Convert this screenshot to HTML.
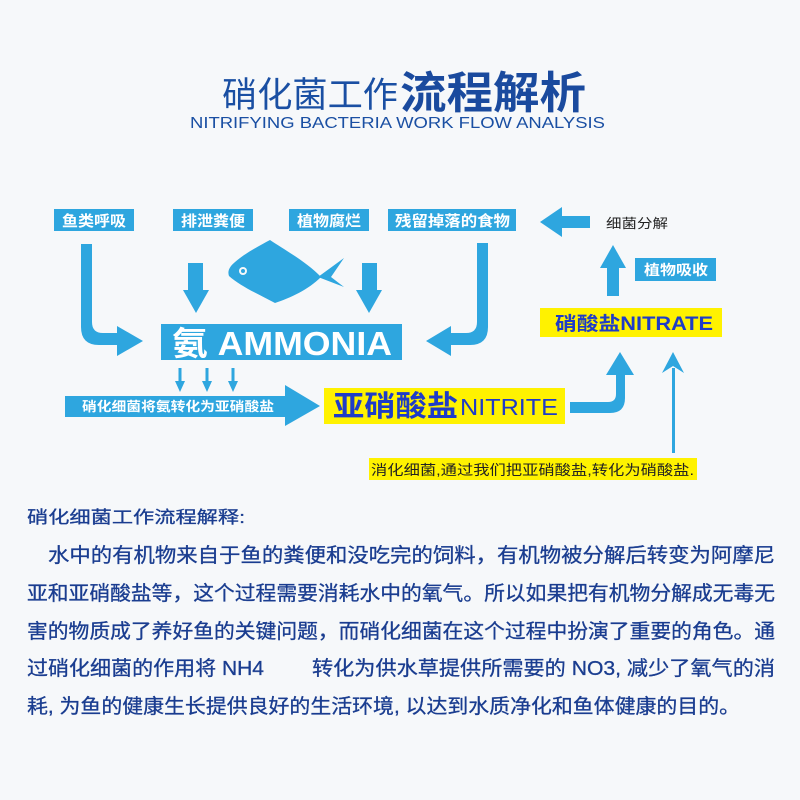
<!DOCTYPE html>
<html><head><meta charset="utf-8"><style>
html,body{margin:0;padding:0;background:#f6f8fa;}
svg{display:block}
text{font-family:"Liberation Sans","Noto Sans CJK SC",sans-serif;}
</style></head><body>
<svg width="800" height="800" viewBox="0 0 800 800" xmlns="http://www.w3.org/2000/svg">
<rect width="800" height="800" fill="#f6f8fa"/>
<text x="222" y="107" font-size="35" fill="#1a4fa3" textLength="176" lengthAdjust="spacingAndGlyphs">硝化菌工作</text>
<text x="400" y="108" font-size="44" font-weight="bold" fill="#1a4a9e" textLength="186" lengthAdjust="spacingAndGlyphs">流程解析</text>
<text x="190" y="128" font-size="16" fill="#1a4fa3" textLength="415" lengthAdjust="spacingAndGlyphs">NITRIFYING BACTERIA WORK FLOW ANALYSIS</text>

<g fill="#2ea6df">
<rect x="54" y="209" width="80" height="22"/>
<rect x="173" y="209" width="80" height="22"/>
<rect x="289" y="209" width="80" height="22"/>
<rect x="388" y="209" width="128" height="22"/>
<rect x="635" y="258" width="81" height="23"/>
<rect x="560" y="216" width="30" height="12"/>
<polygon points="540,222 562,207 562,237"/>
<rect x="607" y="268" width="12" height="28"/>
<polygon points="613,245 600,268 626,268"/>
<path d="M81,244 H92 V322 Q92,333 103,333 H120 V345 H99 Q81,345 81,327 Z"/>
<polygon points="143,341 117,326 117,356"/>
<path d="M477,243 H488 V327 Q488,345 470,345 H448 V333 H466 Q477,333 477,322 Z"/>
<polygon points="426,341 451,326 451,356"/>
<rect x="188" y="263" width="15" height="28"/>
<polygon points="196,313 183,290 209,290"/>
<rect x="362" y="263" width="15" height="28"/>
<polygon points="369,313 356,290 382,290"/>
<path d="M270,240 C285,250 308,263 321,277 C308,290 290,298 275,303 C258,294 240,286 229,276 C228,273 228,270 231,266 C240,256 257,247 270,240 Z"/>
<path d="M318,277 L344,258 L331,277 L344,287 Z"/>
<rect x="161" y="324" width="241" height="36"/>
<rect x="178.5" y="368" width="3" height="14"/><polygon points="180,392 175,381 185,381"/>
<rect x="205.5" y="368" width="3" height="14"/><polygon points="207,392 202,381 212,381"/>
<rect x="231.5" y="368" width="3" height="14"/><polygon points="233,392 228,381 238,381"/>
<rect x="65" y="396" width="222" height="21"/>
<polygon points="320,406 285,385 285,426"/>
<path d="M570,402 H608 Q616,402 616,394 V373 H625 V398 Q625,413 610,413 H570 Z"/>
<polygon points="620,352 606,375 634,375"/>
<rect x="672" y="368" width="3" height="85"/>
<polygon points="673,352 662,373 673,366 684,373"/>
</g>
<circle cx="243" cy="271" r="4" fill="#f6f8fa"/>
<circle cx="243" cy="271" r="2" fill="#2ea6df"/>

<g fill="#fff" font-weight="bold">
<text x="62" y="226" font-size="15" textLength="64" lengthAdjust="spacingAndGlyphs">鱼类呼吸</text>
<text x="181" y="226" font-size="15" textLength="64" lengthAdjust="spacingAndGlyphs">排泄粪便</text>
<text x="297" y="226" font-size="15" textLength="64" lengthAdjust="spacingAndGlyphs">植物腐烂</text>
<text x="395" y="226" font-size="15" textLength="115" lengthAdjust="spacingAndGlyphs">残留掉落的食物</text>
<text x="644" y="275" font-size="14" textLength="64" lengthAdjust="spacingAndGlyphs">植物吸收</text>
<text x="172" y="355" font-size="33" textLength="220" lengthAdjust="spacingAndGlyphs">氨 AMMONIA</text>
<text x="82" y="411" font-size="13" textLength="192" lengthAdjust="spacingAndGlyphs">硝化细菌将氨转化为亚硝酸盐</text>
</g>
<text x="606" y="228" font-size="13" fill="#222" textLength="62" lengthAdjust="spacingAndGlyphs">细菌分解</text>

<rect x="540" y="308" width="182" height="29" fill="#fff200"/>
<text x="555" y="330" font-size="19" fill="#1e3cc8" font-weight="bold" textLength="158" lengthAdjust="spacingAndGlyphs">硝酸盐NITRATE</text>
<rect x="324" y="388" width="241" height="36" fill="#fff200"/>
<text x="333" y="416" font-size="29" fill="#1e3cc8" font-weight="bold" textLength="125" lengthAdjust="spacingAndGlyphs">亚硝酸盐</text>
<text x="460" y="415" font-size="23" fill="#1e3cc8" textLength="98" lengthAdjust="spacingAndGlyphs">NITRITE</text>
<rect x="369" y="458" width="328" height="22" fill="#fff200"/>
<text x="371" y="475" font-size="14" fill="#222" textLength="323" lengthAdjust="spacingAndGlyphs">消化细菌,通过我们把亚硝酸盐,转化为硝酸盐.</text>

<g fill="#1a3d90" font-size="20" stroke="#1a3d90" stroke-width="0.3">
<text x="27" y="523" font-size="17" textLength="218" lengthAdjust="spacingAndGlyphs">硝化细菌工作流程解释:</text>
<text x="48" y="562" textLength="727" lengthAdjust="spacingAndGlyphs">水中的有机物来自于鱼的粪便和没吃完的饲料，有机物被分解后转变为阿摩尼</text>
<text x="27" y="600" textLength="748" lengthAdjust="spacingAndGlyphs">亚和亚硝酸盐等，这个过程需要消耗水中的氧气。所以如果把有机物分解成无毒无</text>
<text x="27" y="638" textLength="748" lengthAdjust="spacingAndGlyphs">害的物质成了养好鱼的关键问题，而硝化细菌在这个过程中扮演了重要的角色。通</text>
<text x="27" y="675" textLength="237" lengthAdjust="spacingAndGlyphs">过硝化细菌的作用将 NH4</text>
<text x="312" y="675" textLength="463" lengthAdjust="spacingAndGlyphs">转化为供水草提供所需要的 NO3, 减少了氧气的消</text>
<text x="27" y="713" textLength="713" lengthAdjust="spacingAndGlyphs">耗, 为鱼的健康生长提供良好的生活环境, 以达到水质净化和鱼体健康的目的。</text>
</g>
</svg>
</body></html>
